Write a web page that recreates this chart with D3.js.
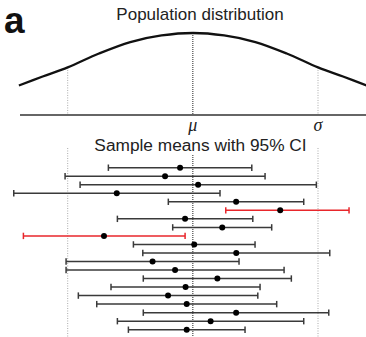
<!DOCTYPE html>
<html>
<head>
<meta charset="utf-8">
<script src="https://cdn.jsdelivr.net/npm/d3@7"></script>
<style>
  body { margin: 0; background: #fff; }
  text { font-family: "Liberation Sans", Arial, sans-serif; fill: #222; }
</style>
</head>
<body>
<div id="chart"></div>
<script>
// population curve (x in sigma units, height relative to peak)
const curveZ = [-1.39, -1.2, -1.0, -0.75, -0.5, -0.25, 0, 0.25, 0.5, 0.75, 1.0, 1.2, 1.39];
const curveDensity = [0.36, 0.47, 0.58, 0.75, 0.89, 0.97, 1, 0.97, 0.89, 0.75, 0.58, 0.47, 0.36];

// sample means with 95% CI (sigma units, mu = 0)
const sampleMeans = [-0.102, -0.222, 0.042, -0.608, 0.346, 0.698, -0.062, 0.235, -0.710, 0.011,
                     0.347, -0.322, -0.142, 0.196, -0.058, -0.198, -0.049, 0.346, 0.142, -0.049];
const ciLower = [-0.675, -1.021, -0.901, -1.431, -0.196, 0.263, -0.603, -0.161, -1.354, -0.475,
                 -0.400, -1.013, -1.013, -0.396, -0.654, -0.915, -0.768, -0.396, -0.603, -0.515];
const ciUpper = [0.471, 0.577, 0.987, 0.217, 0.886, 1.248, 0.479, 0.630, -0.062, 0.497,
                 1.094, 0.369, 0.729, 0.787, 0.537, 0.519, 0.670, 1.086, 0.886, 0.417];

const width = 366, height = 337;

const svg = d3.select('#chart').append('svg')
  .attr('width', width)
  .attr('height', height);

const x = d3.scaleLinear().domain([-1, 1]).range([67.7, 318]);
const yDens = d3.scaleLinear().domain([0, 1]).range([115, 33]);
const yRow = d3.scalePoint()
  .domain(d3.range(sampleMeans.length))
  .range([167.7, 329.7]);

// panel letter
svg.append('text')
  .attr('x', 4).attr('y', 33)
  .style('font-size', '37px').style('font-weight', 'bold')
  .style('fill', '#111')
  .text('a');

// titles
svg.append('text')
  .attr('x', 200).attr('y', 19.5)
  .attr('text-anchor', 'middle')
  .style('font-size', '17px')
  .text('Population distribution');

svg.append('text')
  .attr('x', 200.5).attr('y', 150.5)
  .attr('text-anchor', 'middle')
  .style('font-size', '17.3px')
  .text('Sample means with 95% CI');

// dotted guide lines
const curvePts = curveZ.map((z, i) => [z, curveDensity[i]]);
const densAt = z => curveDensity[curveZ.indexOf(z)];

svg.append('line')
  .attr('x1', x(0)).attr('x2', x(0))
  .attr('y1', yDens(1)).attr('y2', yDens(0))
  .attr('stroke', '#222').attr('stroke-width', 1)
  .attr('stroke-dasharray', '1,1');

[-1, 1].forEach(z => {
  svg.append('line')
    .attr('x1', x(z)).attr('x2', x(z))
    .attr('y1', yDens(densAt(z))).attr('y2', yDens(0))
    .attr('stroke', '#aaa').attr('stroke-width', 1)
    .attr('stroke-dasharray', '1,1.5');
  svg.append('line')
    .attr('x1', x(z)).attr('x2', x(z))
    .attr('y1', 148).attr('y2', height)
    .attr('stroke', '#aaa').attr('stroke-width', 1)
    .attr('stroke-dasharray', '1,1.5');
});

svg.append('line')
  .attr('x1', x(0)).attr('x2', x(0))
  .attr('y1', 155).attr('y2', height)
  .attr('stroke', '#222').attr('stroke-width', 1)
  .attr('stroke-dasharray', '1,1');

// baseline axis
svg.append('line')
  .attr('x1', 20).attr('x2', width)
  .attr('y1', yDens(0)).attr('y2', yDens(0))
  .attr('stroke', '#333').attr('stroke-width', 1.6);

// population curve
const line = d3.line()
  .x(d => x(d[0]))
  .y(d => yDens(d[1]))
  .curve(d3.curveCatmullRom);

svg.append('path')
  .datum(curvePts)
  .attr('d', line)
  .attr('fill', 'none')
  .attr('stroke', '#111')
  .attr('stroke-width', 2.3);

// greek labels
svg.append('text')
  .attr('x', x(0)).attr('y', 131)
  .attr('text-anchor', 'middle')
  .style('font-family', '"Liberation Serif", "DejaVu Serif", serif')
  .style('font-style', 'italic')
  .style('font-size', '18px')
  .text('μ');

svg.append('text')
  .attr('x', x(1)).attr('y', 131)
  .attr('text-anchor', 'middle')
  .style('font-family', '"Liberation Serif", "DejaVu Serif", serif')
  .style('font-style', 'italic')
  .style('font-size', '18px')
  .text('σ');

// error bars
const rows = sampleMeans.map((m, i) => ({
  i: i, mean: m, lo: ciLower[i], hi: ciUpper[i],
  miss: ciLower[i] > 0 || ciUpper[i] < 0
}));
const colorOf = d => d.miss ? '#e8262b' : '#3a3a3a';
const capH = 3.2;

const bar = svg.append('g').selectAll('g.bar')
  .data(rows)
  .enter()
  .append('g')
  .attr('class', 'bar');

bar.append('line')
  .attr('x1', d => x(d.lo)).attr('x2', d => x(d.hi))
  .attr('y1', d => yRow(d.i)).attr('y2', d => yRow(d.i))
  .attr('stroke', colorOf).attr('stroke-width', 1.5);

bar.append('line')
  .attr('x1', d => x(d.lo)).attr('x2', d => x(d.lo))
  .attr('y1', d => yRow(d.i) - capH).attr('y2', d => yRow(d.i) + capH)
  .attr('stroke', colorOf).attr('stroke-width', 1.5);

bar.append('line')
  .attr('x1', d => x(d.hi)).attr('x2', d => x(d.hi))
  .attr('y1', d => yRow(d.i) - capH).attr('y2', d => yRow(d.i) + capH)
  .attr('stroke', colorOf).attr('stroke-width', 1.5);

bar.append('circle')
  .attr('cx', d => x(d.mean))
  .attr('cy', d => yRow(d.i))
  .attr('r', 3)
  .attr('fill', '#000');
</script>
</body>
</html>
